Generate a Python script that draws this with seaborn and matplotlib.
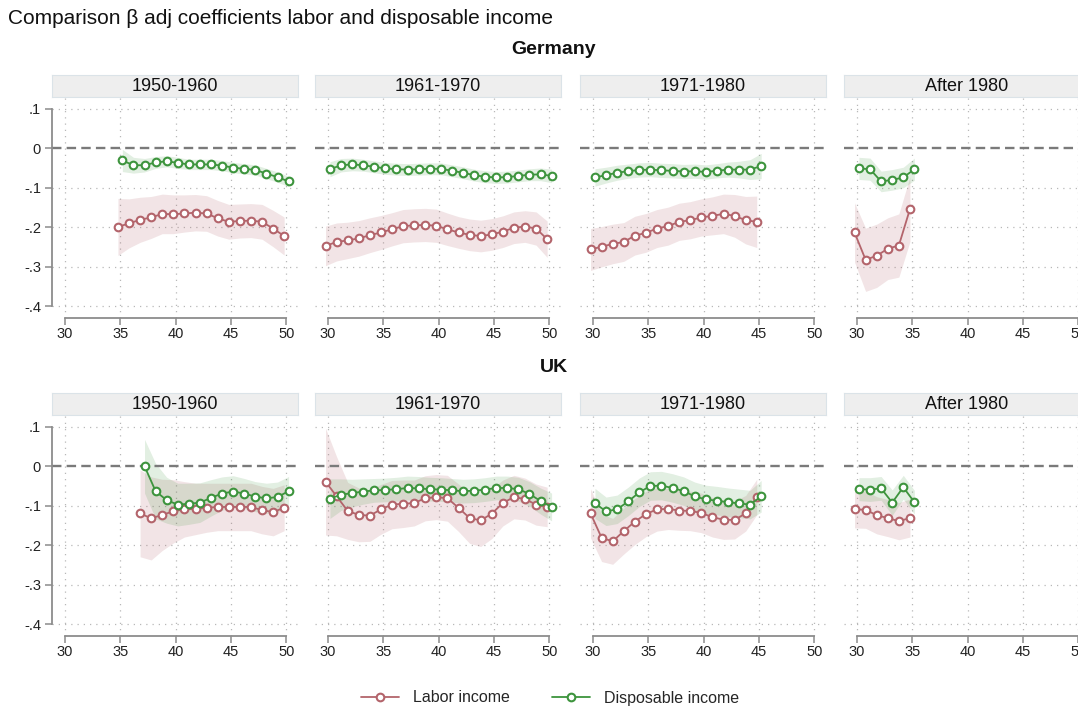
import numpy as np
import pandas as pd
import matplotlib
matplotlib.use("Agg")
import matplotlib.pyplot as plt
from matplotlib.lines import Line2D
import seaborn as sns

# ---------------------------------------------------------------- data
countries = ["Germany", "UK"]
cohorts = ["1950-1960", "1961-1970", "1971-1980", "After 1980"]
series_names = ["Labor income", "Disposable income"]

# first and last age of each cohort panel
de_age_range = {"1950-1960": (35, 50), "1961-1970": (30, 50), "1971-1980": (30, 45), "After 1980": (30, 35)}
uk_age_range = {"1950-1960": (37, 50), "1961-1970": (30, 50), "1971-1980": (30, 45), "After 1980": (30, 35)}

# Germany: point estimates and half-width of the confidence band
de_1950_labor = [-0.199, -0.190, -0.181, -0.175, -0.166, -0.167, -0.165, -0.163, -0.165, -0.177, -0.186, -0.184, -0.183, -0.186, -0.203, -0.222]
de_1950_labor_hw = [0.072, 0.062, 0.057, 0.053, 0.050, 0.049, 0.047, 0.046, 0.045, 0.045, 0.044, 0.043, 0.043, 0.044, 0.046, 0.048]
de_1950_disp = [-0.031, -0.043, -0.043, -0.036, -0.033, -0.037, -0.041, -0.041, -0.041, -0.044, -0.049, -0.052, -0.055, -0.064, -0.073, -0.084]
de_1950_disp_hw = [0.028, 0.020, 0.017, 0.015, 0.014, 0.014, 0.013, 0.013, 0.013, 0.013, 0.013, 0.013, 0.013, 0.013, 0.013, 0.013]

de_1961_labor = [-0.247, -0.237, -0.233, -0.228, -0.220, -0.213, -0.205, -0.197, -0.195, -0.194, -0.196, -0.205, -0.213, -0.219, -0.222, -0.218, -0.211, -0.201, -0.198, -0.203, -0.230]
de_1961_labor_hw = [0.050, 0.048, 0.046, 0.045, 0.044, 0.043, 0.042, 0.042, 0.042, 0.042, 0.042, 0.041, 0.040, 0.040, 0.040, 0.040, 0.040, 0.040, 0.040, 0.042, 0.046]
de_1961_disp = [-0.053, -0.043, -0.041, -0.043, -0.047, -0.051, -0.053, -0.054, -0.053, -0.052, -0.052, -0.057, -0.062, -0.068, -0.072, -0.074, -0.073, -0.070, -0.067, -0.066, -0.070]
de_1961_disp_hw = [0.019, 0.017, 0.016, 0.015, 0.015, 0.015, 0.015, 0.015, 0.015, 0.015, 0.015, 0.015, 0.015, 0.015, 0.015, 0.015, 0.015, 0.015, 0.015, 0.016, 0.017]

de_1971_labor = [-0.256, -0.249, -0.242, -0.237, -0.221, -0.214, -0.203, -0.197, -0.186, -0.182, -0.175, -0.171, -0.166, -0.171, -0.182, -0.186]
de_1971_labor_hw = [0.053, 0.051, 0.050, 0.049, 0.049, 0.049, 0.048, 0.048, 0.047, 0.047, 0.047, 0.048, 0.050, 0.054, 0.060, 0.065]
de_1971_disp = [-0.074, -0.068, -0.062, -0.058, -0.055, -0.054, -0.056, -0.057, -0.059, -0.058, -0.060, -0.057, -0.054, -0.054, -0.054, -0.045]
de_1971_disp_hw = [0.022, 0.020, 0.019, 0.018, 0.018, 0.018, 0.018, 0.018, 0.018, 0.018, 0.018, 0.018, 0.019, 0.021, 0.025, 0.032]

de_1981_labor = [-0.213, -0.282, -0.272, -0.254, -0.246, -0.154]
de_1981_labor_hw = [0.075, 0.080, 0.080, 0.078, 0.080, 0.082]
de_1981_disp = [-0.051, -0.053, -0.084, -0.080, -0.074, -0.053]
de_1981_disp_hw = [0.028, 0.028, 0.026, 0.026, 0.026, 0.028]

# UK: point estimates and half-width of the confidence band
uk_1950_labor = [-0.119, -0.132, -0.123, -0.114, -0.109, -0.108, -0.105, -0.103, -0.103, -0.103, -0.103, -0.111, -0.116, -0.105]
uk_1950_labor_hw = [0.110, 0.105, 0.090, 0.080, 0.070, 0.065, 0.062, 0.060, 0.060, 0.060, 0.060, 0.060, 0.060, 0.058]
uk_1950_disp = [0.000, -0.063, -0.086, -0.097, -0.095, -0.092, -0.080, -0.069, -0.064, -0.069, -0.077, -0.081, -0.078, -0.063]
uk_1950_disp_hw = [0.068, 0.070, 0.058, 0.054, 0.052, 0.050, 0.046, 0.042, 0.040, 0.038, 0.038, 0.038, 0.038, 0.037]

uk_1961_labor = [-0.039, -0.076, -0.113, -0.123, -0.125, -0.109, -0.097, -0.095, -0.093, -0.081, -0.078, -0.081, -0.105, -0.131, -0.137, -0.120, -0.093, -0.078, -0.083, -0.097, -0.103]
uk_1961_labor_hw = [0.135, 0.100, 0.072, 0.068, 0.065, 0.063, 0.061, 0.060, 0.058, 0.057, 0.057, 0.058, 0.060, 0.064, 0.066, 0.063, 0.058, 0.055, 0.053, 0.052, 0.050]
uk_1961_disp = [-0.082, -0.072, -0.068, -0.064, -0.061, -0.060, -0.058, -0.055, -0.056, -0.058, -0.059, -0.061, -0.063, -0.062, -0.059, -0.055, -0.055, -0.058, -0.070, -0.088, -0.103]
uk_1961_disp_hw = [0.050, 0.040, 0.035, 0.032, 0.030, 0.030, 0.030, 0.030, 0.030, 0.030, 0.030, 0.030, 0.030, 0.030, 0.030, 0.030, 0.030, 0.030, 0.031, 0.033, 0.035]

uk_1971_labor = [-0.119, -0.181, -0.190, -0.164, -0.140, -0.121, -0.109, -0.108, -0.112, -0.113, -0.118, -0.129, -0.135, -0.136, -0.119, -0.078]
uk_1971_labor_hw = [0.062, 0.060, 0.058, 0.058, 0.058, 0.057, 0.055, 0.052, 0.050, 0.050, 0.050, 0.050, 0.050, 0.048, 0.045, 0.045]
uk_1971_disp = [-0.094, -0.114, -0.109, -0.089, -0.066, -0.050, -0.049, -0.055, -0.063, -0.076, -0.084, -0.087, -0.091, -0.094, -0.097, -0.076]
uk_1971_disp_hw = [0.038, 0.036, 0.036, 0.036, 0.036, 0.036, 0.036, 0.036, 0.036, 0.036, 0.036, 0.036, 0.036, 0.036, 0.036, 0.040]

uk_1981_labor = [-0.109, -0.110, -0.124, -0.131, -0.139, -0.131]
uk_1981_labor_hw = [0.047, 0.047, 0.047, 0.047, 0.047, 0.048]
uk_1981_disp = [-0.058, -0.059, -0.056, -0.092, -0.053, -0.091]
uk_1981_disp_hw = [0.029, 0.030, 0.030, 0.032, 0.030, 0.030]

x_ticks = [30, 35, 40, 45, 50]
y_ticks = [0.1, 0.0, -0.1, -0.2, -0.3, -0.4]
y_tick_labels = [".1", "0", "-.1", "-.2", "-.3", "-.4"]

title = "Comparison \u03b2 adj coefficients labor and disposable income"

# ---------------------------------------------------------------- long table
panel_values = {
    ("Germany", "1950-1960"): (de_1950_labor, de_1950_labor_hw, de_1950_disp, de_1950_disp_hw),
    ("Germany", "1961-1970"): (de_1961_labor, de_1961_labor_hw, de_1961_disp, de_1961_disp_hw),
    ("Germany", "1971-1980"): (de_1971_labor, de_1971_labor_hw, de_1971_disp, de_1971_disp_hw),
    ("Germany", "After 1980"): (de_1981_labor, de_1981_labor_hw, de_1981_disp, de_1981_disp_hw),
    ("UK", "1950-1960"): (uk_1950_labor, uk_1950_labor_hw, uk_1950_disp, uk_1950_disp_hw),
    ("UK", "1961-1970"): (uk_1961_labor, uk_1961_labor_hw, uk_1961_disp, uk_1961_disp_hw),
    ("UK", "1971-1980"): (uk_1971_labor, uk_1971_labor_hw, uk_1971_disp, uk_1971_disp_hw),
    ("UK", "After 1980"): (uk_1981_labor, uk_1981_labor_hw, uk_1981_disp, uk_1981_disp_hw),
}
age_ranges = {"Germany": de_age_range, "UK": uk_age_range}

rows = []
for (country, cohort), (lab, lab_hw, dis, dis_hw) in panel_values.items():
    a0, a1 = age_ranges[country][cohort]
    ages = np.arange(a0, a1 + 1)
    for name, vals, hws in ((series_names[0], lab, lab_hw), (series_names[1], dis, dis_hw)):
        for a, v, h in zip(ages, vals, hws):
            rows.append({"country": country, "cohort": cohort, "series": name,
                         "age": a, "beta": v, "lo": v - h, "hi": v + h})
df = pd.DataFrame(rows)

# ---------------------------------------------------------------- style
sns.set_theme(style="white")
plt.rcParams["font.family"] = ["Liberation Sans", "DejaVu Sans"]

colors = {"Labor income": "#b3646b", "Disposable income": "#3d943d"}
band_alpha = {"Labor income": 0.17, "Disposable income": 0.15}
dodge = {"Labor income": -0.2, "Disposable income": 0.2}

W, H = 1078, 708
fig = plt.figure(figsize=(W / 100, H / 100), dpi=100)


def frac(left, top, width, height):
    return [left / W, 1 - (top + height) / H, width / W, height / H]


col_left = [52, 315, 580, 844]
row_top = [98, 416]
panel_w, panel_h = 246, 219.5
strip_h = 22

XLIM = (28.85, 51.05)
YLIM = (-0.428, 0.127)

for r, country in enumerate(countries):
    for c, cohort in enumerate(cohorts):
        ax = fig.add_axes(frac(col_left[c], row_top[r], panel_w, panel_h))
        ax.set_xlim(*XLIM)
        ax.set_ylim(*YLIM)
        ax.set_facecolor("white")

        # dotted grid and dashed reference line at zero
        for xv in x_ticks:
            ax.axvline(xv, color="#b8b8b8", lw=0.9, ls=(0, (1, 4)), zorder=0)
        for yv in y_ticks:
            if yv == 0:
                continue
            ax.axhline(yv, color="#b8b8b8", lw=0.9, ls=(0, (1, 4)), zorder=0)

        sub = df[(df.country == country) & (df.cohort == cohort)]
        for name in series_names:
            s = sub[sub.series == name].copy()
            s["xpos"] = s["age"] + dodge[name]
            ax.fill_between(s["xpos"], s["lo"], s["hi"], color=colors[name],
                            alpha=band_alpha[name], lw=0, zorder=1)
        ax.axhline(0, color="#7a7a7a", lw=1.7, ls=(0, (4, 2.2)), zorder=2)
        for name in series_names:
            s = sub[sub.series == name].copy()
            s["xpos"] = s["age"] + dodge[name]
            sns.lineplot(data=s, x="xpos", y="beta", ax=ax, color=colors[name],
                         errorbar=None, marker="o", markersize=5.5,
                         markerfacecolor="white", markeredgecolor=colors[name],
                         markeredgewidth=1.5, linewidth=1.3, zorder=3, legend=False)

        ax.set_xlabel("")
        ax.set_ylabel("")
        for sp in ("top", "right"):
            ax.spines[sp].set_visible(False)
        ax.spines["bottom"].set_bounds(30, 50)
        ax.spines["bottom"].set_color("#8c8c8c")
        ax.spines["bottom"].set_linewidth(1.3)
        ax.set_xticks(x_ticks)
        ax.set_xticklabels([str(t) for t in x_ticks])
        ax.tick_params(axis="x", direction="out", length=5, width=1.1, color="#8c8c8c",
                       pad=1.5, labelsize=10.5, labelcolor="#222222", bottom=True)
        if c == 0:
            ax.spines["left"].set_bounds(-0.4, 0.1)
            ax.spines["left"].set_color("#8c8c8c")
            ax.spines["left"].set_linewidth(1.3)
            ax.set_yticks(y_ticks)
            ax.set_yticklabels(y_tick_labels)
            ax.tick_params(axis="y", direction="out", length=5, width=1.1, color="#8c8c8c",
                           pad=3, labelsize=10.5, labelcolor="#222222", left=True)
        else:
            ax.spines["left"].set_visible(False)
            ax.set_yticks([])

        # cohort strip above each panel
        sax = fig.add_axes(frac(col_left[c], row_top[r] - strip_h - 1, panel_w, strip_h))
        sax.set_facecolor("#eeeeee")
        sax.set_xticks([])
        sax.set_yticks([])
        for sp in sax.spines.values():
            sp.set_color("#dbe3e8")
            sp.set_linewidth(0.8)
        sax.text(0.5, 0.47, cohort, ha="center", va="center", fontsize=13,
                 color="#111111", transform=sax.transAxes)

# row headings
fig.text(554 / W, 1 - 50 / H, "Germany", ha="center", va="center",
         fontsize=14, fontweight="bold", color="#111111")
fig.text(554 / W, 1 - 368 / H, "UK", ha="center", va="center",
         fontsize=14, fontweight="bold", color="#111111")

fig.text(8 / W, 1 - 18 / H, title, ha="left", va="center", fontsize=15, color="#111111")

handles = [Line2D([0], [0], color=colors[n], lw=1.3, marker="o", markersize=5.5,
                  markerfacecolor="white", markeredgecolor=colors[n], markeredgewidth=1.5)
           for n in series_names]
fig.legend(handles, series_names, loc="center", bbox_to_anchor=(550 / W, 1 - 698 / H),
           ncol=2, frameon=False, fontsize=11.5, handlelength=2.4, handletextpad=0.9,
           columnspacing=2.6)

fig.savefig("out.png", dpi=100)
